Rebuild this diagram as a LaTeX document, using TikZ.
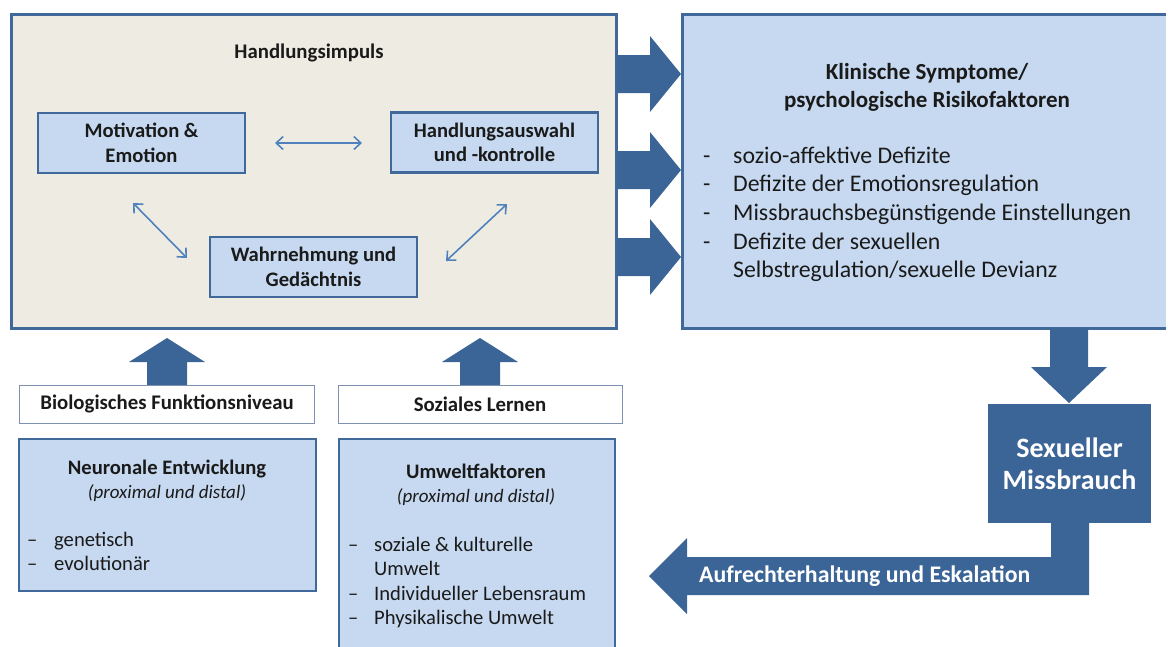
\documentclass[tikz,border=0pt]{standalone}
\usepackage{fontspec}
\setmainfont{Carlito}
\usetikzlibrary{arrows.meta}
\definecolor{darkblue}{HTML}{3B6497}
\definecolor{framec}{HTML}{41689A}
\definecolor{lightblue}{HTML}{C6D9F0}
\definecolor{beige}{HTML}{EEECE2}
\definecolor{thinarrow}{HTML}{4F81BD}
\definecolor{whitebord}{HTML}{7D92B2}
\definecolor{textc}{HTML}{1A1A1A}
\tikzset{
  x=1pt, y=-1pt,
  frame/.style={draw=framec, line width=2.6pt},
  innerbox/.style={draw=framec, line width=2.4pt, fill=lightblue, text=textc, align=center, inner sep=0pt,
     font=\fontsize{20.6}{24.5}\selectfont\bfseries},
  whitebox/.style={draw=whitebord, line width=1pt, fill=white, text=textc, inner sep=0pt,
     font=\fontsize{20.8}{24}\selectfont\bfseries},
  blockarrow/.style={fill=darkblue, draw=none},
  thin/.style={draw=thinarrow, line width=1.6pt, {Straight Barb[length=7pt,width=13pt,line width=1.6pt]}-{Straight Barb[length=7pt,width=13pt,line width=1.6pt]}},
  plain/.style={text=textc, inner sep=0pt},
}
\begin{document}
\begin{tikzpicture}
\useasboundingbox (0,0) rectangle (1168,646);
% big beige box
\node[frame, fill=beige, minimum width=605pt, minimum height=314pt, inner sep=0pt, anchor=north west] (impuls) at (10,13) {};
\node[plain, font=\fontsize{20.8}{24}\selectfont\bfseries] (impulstitle) at (309,53) {Handlungsimpuls};
% inner boxes
\node[innerbox, minimum width=207pt, minimum height=60pt] (mot) at (141.5,143) {Motivation \&\\Emotion};
\node[innerbox, minimum width=207pt, minimum height=60pt] (hand) at (494.5,142.5) {Handlungsauswahl\\und -kontrolle};
\node[innerbox, minimum width=207pt, minimum height=60pt] (wahr) at (313.5,267) {Wahrnehmung und\\Gedächtnis};
% thin arrows
\coordinate (a1) at (275,143); \coordinate (a2) at (362,143);
\draw[thin] (a1) -- (a2);
\coordinate (b1) at (133,203); \coordinate (b2) at (187,258);
\draw[thin] (b1) -- (b2);
\coordinate (c1) at (507,204); \coordinate (c2) at (446,261);
\draw[thin] (c1) -- (c2);
% right box
\node[frame, fill=lightblue, minimum width=500pt, minimum height=314pt, inner sep=0pt, anchor=north west] (klin) at (681,13) {};
\node[plain, align=center, font=\fontsize{23}{28}\selectfont\bfseries] (klintitle) at (927,87) {Klinische Symptome/\\psychologische Risikofaktoren};
\node[plain, anchor=north west, font=\fontsize{23.8}{28.6}\selectfont] (klinlist) at (703,143)
{\begin{tabular}{@{}p{30pt}@{}l@{}}
-& sozio-affektive Defizite\\
-& Defizite der Emotionsregulation\\
-& Missbrauchsbegünstigende Einstellungen\\
-& Defizite der sexuellen\\
 & Selbstregulation/sexuelle Devianz
\end{tabular}};
\fill[white] (1166,0) rectangle (1168,340);
% right block arrows
\foreach \c in {74,170,257}{
  \fill[blockarrow] (617,\c-19) -- (650,\c-19) -- (650,\c-38) -- (681,\c) -- (650,\c+38) -- (650,\c+19) -- (617,\c+19) -- cycle;
}
% down arrow
\fill[blockarrow] (1050,328) -- (1088,328) -- (1088,367) -- (1107,367) -- (1069,403) -- (1031,367) -- (1050,367) -- cycle;
% Sexueller Missbrauch
\node[fill=darkblue, text=white, align=center, minimum width=163pt, minimum height=119pt, inner sep=0pt,
  font=\fontsize{28}{32}\selectfont\bfseries] (sm) at (1069.5,463.5) {Sexueller\\Missbrauch};
% L arrow
\fill[blockarrow] (1051,522) -- (1089,522) -- (1089,595) -- (687,595) -- (687,614) -- (649,576) -- (687,538) -- (687,557) -- (1051,557) -- cycle;
\node[plain, text=white, font=\fontsize{23.8}{24}\selectfont\bfseries, anchor=west] (aufr) at (699,576) {Aufrechterhaltung und Eskalation};
% up arrows
\foreach \c in {167,480}{
  \fill[blockarrow] (\c-20,385) -- (\c-20,362) -- (\c-38,362) -- (\c,338) -- (\c+38,362) -- (\c+20,362) -- (\c+20,385) -- cycle;
}
% white label boxes
\node[whitebox, minimum width=295pt, minimum height=38pt] (bio) at (167,404) {Biologisches Funktionsniveau};
\node[whitebox, minimum width=284pt, minimum height=38pt] (soz) at (480,404) {Soziales Lernen};
% lower boxes
\node[frame, fill=lightblue, line width=2.4pt, minimum width=297pt, minimum height=152pt, inner sep=0pt, anchor=north west] (neuro) at (18,438) {};
\node[plain, align=center, font=\fontsize{20.6}{24}\selectfont] (neurotitle) at (167,481)
  {\textbf{Neuronale Entwicklung}\\{\fontsize{19}{24}\selectfont\itshape (proximal und distal)}};
\node[plain, anchor=north west, font=\fontsize{20.6}{23.5}\selectfont] (neurolist) at (27,530)
{\begin{tabular}{@{}p{27pt}@{}l@{}}
--& genetisch\\
--& evolutionär
\end{tabular}};
\node[frame, fill=lightblue, line width=2.4pt, minimum width=276pt, minimum height=230pt, inner sep=0pt, anchor=north west] (umwelt) at (338,438) {};
\node[plain, align=center, font=\fontsize{20.6}{24}\selectfont] (umwelttitle) at (476,485)
  {\textbf{Umweltfaktoren}\\{\fontsize{19}{24}\selectfont\itshape (proximal und distal)}};
\node[plain, anchor=north west, font=\fontsize{20.6}{24.4}\selectfont] (umweltlist) at (348,534)
{\begin{tabular}{@{}p{26pt}@{}l@{}}
--& soziale \& kulturelle\\
 & Umwelt\\
--& Individueller Lebensraum\\
--& Physikalische Umwelt
\end{tabular}};
\end{tikzpicture}
\end{document}
